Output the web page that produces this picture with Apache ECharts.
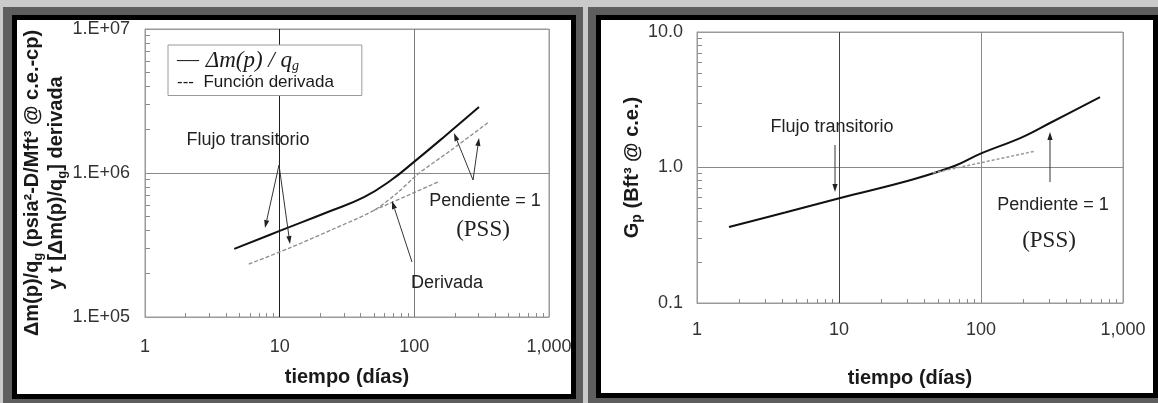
<!DOCTYPE html>
<html>
<head>
<meta charset="utf-8">
<script src="https://cdn.jsdelivr.net/npm/echarts@6/dist/echarts.min.js"></script>
<style>
	html, body { margin: 0; padding: 0; }
	body { width: 1158px; height: 403px; background: #cacaca; position: relative; overflow: hidden; }
	.box { position: absolute; box-sizing: border-box; }
	.dark { background: #5e5e5e; }
	.white { background: #fff; }
	.edge { border: 5px solid #000; pointer-events: none; z-index: 2; }
	#chart { position: absolute; left: 0; top: 0; width: 1158px; height: 403px; z-index: 1; }
</style>
</head>
<body>
<div class="box dark" style="left:3px;top:7px;width:580px;height:396px"></div>
<div class="box dark" style="left:588px;top:7px;width:570px;height:396px"></div>
<div class="box white" style="left:17px;top:20px;width:554px;height:374px"></div>
<div class="box white" style="left:601px;top:20px;width:552px;height:373px"></div>
<div id="chart"></div>
<div class="box edge" style="left:12px;top:15px;width:564px;height:384px"></div>
<div class="box edge" style="left:596px;top:15px;width:562px;height:383px"></div>
<script>
const SANS = '"Liberation Sans", Arial, sans-serif'
const SERIF = '"Liberation Serif", "Times New Roman", serif'

// panel izquierdo: Δm(p)/qg y su derivada
const tMain = [4.6, 10, 22.8, 42.3, 67, 99, 166, 302]
const mpMain = [2.97e5, 3.96e5, 5.36e5, 6.8e5, 8.9e5, 1.19e6, 1.78e6, 2.87e6]
const tDeriv = [5.9, 11.7, 25.3, 50, 75, 106, 187, 358]
const mpDeriv = [2.33e5, 3.0e5, 4.1e5, 5.5e5, 7.3e5, 0.98e6, 1.44e6, 2.26e6]
const tDerivTrend = [50, 150]
const mpDerivTrend = [5.5e5, 8.66e5]

// panel derecho: Gp
const tGp = [1.68, 4.17, 10.2, 32.1, 65.6, 98.4, 194, 306, 689]
const gp = [0.364, 0.466, 0.596, 0.809, 1.03, 1.26, 1.67, 2.13, 3.31]
const tGpTrend = [45.9, 240]
const gpTrend = [0.911, 1.32]

const minorSteps = [2, 3, 4, 5, 6, 7, 8, 9]

const NAME_MAIN = 'Δm(p)/qg'
const NAME_DERIV = 'Función derivada'

const pairs = (xs, ys) => xs.map((x, i) => [x, ys[i]])

function minorLogs(decades) {
	const out = []
	for (let d = 0; d < decades; d++) {
		minorSteps.forEach(k => out.push(d + Math.log10(k)))
	}
	return out
}

function minorAxis(grid, decades, position, length) {
	return {
		type: 'value', gridIndex: grid, position: position, min: 0, max: decades,
		axisLine: { show: false },
		axisLabel: { show: false },
		splitLine: { show: false },
		axisTick: { show: true, inside: true, length: length, customValues: minorLogs(decades), lineStyle: { color: '#8a8a8a' } }
	}
}

const tickFont = { fontFamily: SANS, fontSize: 18, color: '#333' }
const titleFont = { fontFamily: SANS, fontSize: 20, fontWeight: 'bold', color: '#1a1a1a' }

function arrow(x1, y1, x2, y2) {
	const dx = x2 - x1, dy = y2 - y1, len = Math.hypot(dx, dy)
	const ux = dx / len, uy = dy / len
	const bx = x2 - ux * 8, by = y2 - uy * 8
	return [
		{ type: 'line', shape: { x1: x1, y1: y1, x2: bx, y2: by }, style: { stroke: '#333', lineWidth: 1 }, z: 10 },
		{ type: 'polygon', shape: { points: [[x2, y2], [bx - uy * 2.6, by + ux * 2.6], [bx + uy * 2.6, by - ux * 2.6]] }, style: { fill: '#222' }, z: 10 }
	]
}

function note(text, x, y, font) {
	return {
		type: 'text', x: x, y: y, z: 10,
		style: { text: text, font: font, fill: '#222', textAlign: 'center', textVerticalAlign: 'middle', align: 'center', verticalAlign: 'middle' }
	}
}

const sans18 = '18px "Liberation Sans", Arial, sans-serif'
const serif23 = '23px "Liberation Serif", "Times New Roman", serif'

const chart = echarts.init(document.getElementById('chart'))
chart.setOption({
	animation: false,
	textStyle: { fontFamily: SANS },
	grid: [
		{ left: 145, top: 29, width: 404, height: 288, show: true, borderColor: '#9a9a9a', borderWidth: 1 },
		{ left: 697, top: 32, width: 426, height: 271, show: true, borderColor: '#9a9a9a', borderWidth: 1 }
	],
	legend: {
		left: 168, top: 45, orient: 'vertical', itemGap: 0, itemWidth: 1, itemHeight: 1,
		icon: 'none',
		padding: [4, 28, 5, 3], borderColor: '#9a9a9a', borderWidth: 1, backgroundColor: '#fff',
		selectedMode: false,
		data: [NAME_MAIN, NAME_DERIV],
		formatter: name => name === NAME_MAIN
			? '{dash|—}  {it|Δm(p) / q}{sub|g}'
			: '{tx|---  Función derivada}',
		textStyle: {
			rich: {
				dash: { fontFamily: SERIF, fontSize: 22, color: '#1a1a1a', lineHeight: 26 },
				it: { fontFamily: SERIF, fontStyle: 'italic', fontSize: 23, color: '#1a1a1a', lineHeight: 26 },
				sub: { fontFamily: SERIF, fontStyle: 'italic', fontSize: 14, color: '#1a1a1a', lineHeight: 12, verticalAlign: 'bottom' },
				tx: { fontFamily: SANS, fontSize: 17, color: '#1a1a1a', lineHeight: 21 }
			}
		}
	},
	xAxis: [
		{
			type: 'log', logBase: 10, gridIndex: 0, min: 1, max: 1000,
			axisLine: { lineStyle: { color: '#9a9a9a' } },
			axisTick: { show: false },
			splitLine: { show: true, lineStyle: { color: ['#9a9a9a', '#1e1e1e', '#7a7a7a', '#9a9a9a'] } },
			axisLabel: Object.assign({ margin: 21, formatter: v => Math.round(v) >= 1000 ? '1,000' : String(Math.round(v)) }, tickFont),
			name: 'tiempo (días)', nameLocation: 'middle', nameGap: 50, nameTextStyle: titleFont
		},
		minorAxis(0, 3, 'bottom', 4),
		{
			type: 'log', logBase: 10, gridIndex: 1, min: 1, max: 1000,
			axisLine: { lineStyle: { color: '#9a9a9a' } },
			axisTick: { show: false },
			splitLine: { show: true, lineStyle: { color: ['#9a9a9a', '#444', '#8a8a8a', '#9a9a9a'] } },
			axisLabel: Object.assign({ margin: 18, formatter: v => Math.round(v) >= 1000 ? '1,000' : String(Math.round(v)) }, tickFont),
			name: 'tiempo (días)', nameLocation: 'middle', nameGap: 65, nameTextStyle: titleFont
		},
		minorAxis(1, 3, 'bottom', 4)
	],
	yAxis: [
		{
			type: 'log', logBase: 10, gridIndex: 0, min: 1e5, max: 1e7,
			axisLine: { lineStyle: { color: '#9a9a9a' } },
			axisTick: { show: false },
			splitLine: { show: true, lineStyle: { color: ['#9a9a9a', '#8a8a8a', '#9a9a9a'] } },
			axisLabel: Object.assign({ margin: 15, formatter: v => '1.E+' + String(Math.round(Math.log10(v))).padStart(2, '0') }, tickFont),
			name: '{b|Δm(p)/q}{s|g}{b| (psia²-D/Mft³ @ c.e.-cp)}\n{b|y t [Δm(p)/q}{s|g}{b|] derivada}',
			nameLocation: 'middle', nameGap: 72, nameRotate: 90,
			nameTextStyle: {
				padding: [0, 20, 0, 0],
				rich: {
					b: { fontFamily: SANS, fontSize: 20, fontWeight: 'bold', color: '#1a1a1a', lineHeight: 24 },
					s: { fontFamily: SANS, fontSize: 13, fontWeight: 'bold', color: '#1a1a1a', lineHeight: 14, verticalAlign: 'bottom' }
				}
			}
		},
		minorAxis(0, 2, 'left', 5),
		{
			type: 'log', logBase: 10, gridIndex: 1, min: 0.1, max: 10,
			axisLine: { lineStyle: { color: '#9a9a9a' } },
			axisTick: { show: false },
			splitLine: { show: true, lineStyle: { color: ['#9a9a9a', '#8a8a8a', '#9a9a9a'] } },
			axisLabel: Object.assign({ margin: 14, formatter: v => v.toFixed(1) }, tickFont),
			name: '{b|G}{s|p}{b| (Bft³ @ c.e.)}',
			nameLocation: 'middle', nameGap: 52, nameRotate: 90,
			nameTextStyle: {
				rich: {
					b: { fontFamily: SANS, fontSize: 20, fontWeight: 'bold', color: '#1a1a1a', lineHeight: 24 },
					s: { fontFamily: SANS, fontSize: 14, fontWeight: 'bold', color: '#1a1a1a', lineHeight: 14, verticalAlign: 'bottom' }
				}
			}
		},
		minorAxis(1, 2, 'left', 5)
	],
	series: [
		{
			name: NAME_MAIN, type: 'line', xAxisIndex: 0, yAxisIndex: 0, data: pairs(tMain, mpMain),
			symbol: 'none', smooth: 0.45, lineStyle: { color: '#111', width: 2 }, itemStyle: { color: '#111' }
		},
		{
			name: NAME_DERIV, type: 'line', xAxisIndex: 0, yAxisIndex: 0, data: pairs(tDeriv, mpDeriv),
			symbol: 'none', smooth: 0.3, lineStyle: { color: '#8c8c8c', width: 1.3, type: [4, 2] }, itemStyle: { color: '#8c8c8c' }
		},
		{
			name: NAME_DERIV, type: 'line', xAxisIndex: 0, yAxisIndex: 0, data: pairs(tDerivTrend, mpDerivTrend),
			symbol: 'none', lineStyle: { color: '#8c8c8c', width: 1.3, type: [4, 2] }
		},
		{
			name: 'Gp', type: 'line', xAxisIndex: 2, yAxisIndex: 2, data: pairs(tGp, gp),
			symbol: 'none', smooth: 0.4, lineStyle: { color: '#111', width: 2 }
		},
		{
			name: 'Gp tendencia', type: 'line', xAxisIndex: 2, yAxisIndex: 2, data: pairs(tGpTrend, gpTrend),
			symbol: 'none', lineStyle: { color: '#999', width: 1.5, type: [3, 2] }
		}
	],
	graphic: {
		elements: [
			note('Flujo transitorio', 248, 140, sans18),
			...arrow(279, 165, 265, 228),
			...arrow(279, 165, 290, 244),
			note('Derivada', 447, 283, sans18),
			...arrow(412, 262, 392, 201),
			note('Pendiente = 1', 485, 201, sans18),
			note('(PSS)', 483, 230, serif23),
			...arrow(473, 180, 454, 133),
			...arrow(473, 180, 479, 138),
			note('Flujo transitorio', 832, 127, sans18),
			...arrow(835, 145, 835, 192),
			note('Pendiente = 1', 1053, 205, sans18),
			note('(PSS)', 1049, 241, serif23),
			...arrow(1050, 182, 1050, 132)
		]
	}
})
</script>
</body>
</html>
